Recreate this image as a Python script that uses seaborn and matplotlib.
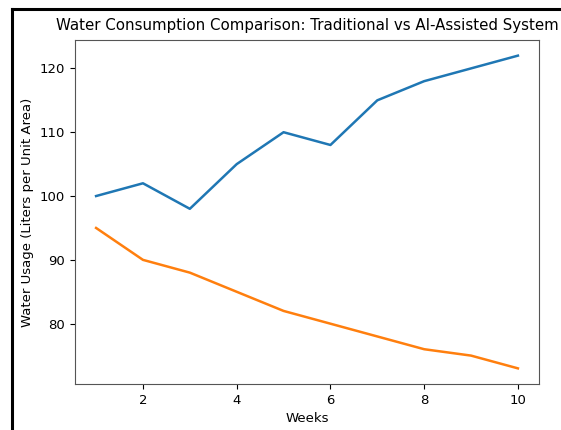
import matplotlib
matplotlib.use("Agg")
import matplotlib.pyplot as plt
import seaborn as sns
import pandas as pd
from matplotlib.lines import Line2D

weeks = [1, 2, 3, 4, 5, 6, 7, 8, 9, 10]
traditional = [100, 102, 98, 105, 110, 108, 115, 118, 120, 122]
ai_assisted = [95, 90, 88, 85, 82, 80, 78, 76, 75, 73]
series_names = ["Traditional", "AI-Assisted"]

df = pd.DataFrame({
    "Weeks": weeks * 2,
    "Water": traditional + ai_assisted,
    "System": [series_names[0]] * len(weeks) + [series_names[1]] * len(weeks),
})

W, H = 561, 430
fig = plt.figure(figsize=(W / 100, H / 100), dpi=100)
ax = fig.add_axes([75 / W, 1 - 384 / H, (539 - 75) / W, (384 - 40) / H])

sns.lineplot(data=df, x="Weeks", y="Water", hue="System",
             palette=["#1f77b4", "#ff7f0e"], linewidth=1.8, legend=False, ax=ax)

ax.set_title("Water Consumption Comparison: Traditional vs AI-Assisted System",
             fontsize=10.8, pad=7)
ax.set_xlabel("Weeks", fontsize=9.5)
ax.set_ylabel("Water Usage (Liters per Unit Area)", fontsize=9.5)
ax.tick_params(labelsize=9.5)
ax.set_xticks([2, 4, 6, 8, 10])
ax.set_yticks([80, 90, 100, 110, 120])
for s in ax.spines.values():
    s.set_color("#555555")

# screenshot frame
fig.add_artist(Line2D([12 / W, 12 / W], [0, 1 - 9 / H], color="black", lw=2.2,
                      transform=fig.transFigure))
fig.add_artist(Line2D([12 / W, 1], [1 - 9 / H, 1 - 9 / H], color="black", lw=2.2,
                      transform=fig.transFigure))

fig.savefig("out.png", dpi=100)
